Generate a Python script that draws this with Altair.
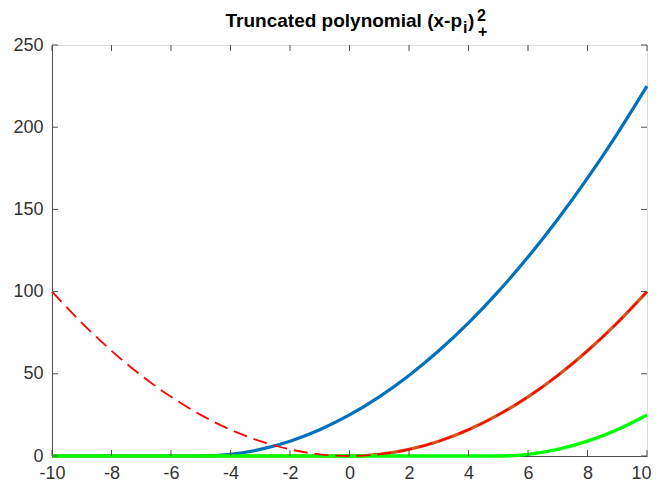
import altair as alt
import pandas as pd

# x sample positions and values
x_vals = [-10, -9, -8, -7, -6, -5, -4, -3, -2, -1, 0, 1, 2, 3, 4, 5, 6, 7, 8, 9, 10]
blue_vals = [0, 0, 0, 0, 0, 0, 1, 4, 9, 16, 25, 36, 49, 64, 81, 100, 121, 144, 169, 196, 225]
orange_vals = [0, 0, 0, 0, 0, 0, 0, 0, 0, 0, 0, 1, 4, 9, 16, 25, 36, 49, 64, 81, 100]
green_vals = [0, 0, 0, 0, 0, 0, 0, 0, 0, 0, 0, 0, 0, 0, 0, 0, 1, 4, 9, 16, 25]
red_vals = [100, 81, 64, 49, 36, 25, 16, 9, 4, 1, 0, 1, 4, 9, 16, 25, 36, 49, 64, 81, 100]

x_ticks = [-10, -8, -6, -4, -2, 0, 2, 4, 6, 8, 10]
y_ticks = [0, 50, 100, 150, 200, 250]

FONT = "Liberation Sans, Arial, Helvetica, sans-serif"
W, H = 595, 411
AXC = "#4d4d4d"
TXT = "#333333"

xscale = alt.Scale(domain=[-10, 10], nice=False, zero=False)
yscale = alt.Scale(domain=[0, 250], nice=False)

xaxis = alt.Axis(values=x_ticks, tickSize=0, labelPadding=8, grid=False, title=None,
                 domainColor=AXC, labelColor=TXT, labelFont=FONT, labelFontSize=18,
                 labelFlush=False, labelOverlap=False, labelExpr="toString(datum.value)",
                 labelOffset={"condition": {"test": "datum.value == 10", "value": -6}, "value": 0})
yaxis = alt.Axis(values=y_ticks, tickSize=0, labelPadding=9, grid=False, title=None,
                 domainColor=AXC, labelColor=TXT, labelFont=FONT, labelFontSize=18,
                 labelFlush=False, labelOverlap=False, labelExpr="toString(datum.value)")


def series(vals, color, width, dash=None):
    df = pd.DataFrame({"x": x_vals, "y": vals})
    kw = dict(color=color, strokeWidth=width, interpolate="monotone", strokeCap="butt")
    if dash:
        kw["strokeDash"] = dash
    return alt.Chart(df).mark_line(**kw).encode(
        x=alt.X("x:Q", scale=xscale, axis=xaxis, title=None),
        y=alt.Y("y:Q", scale=yscale, axis=yaxis, title=None),
    )


blue = series(blue_vals, "#0072BD", 3.2)
orange = series(orange_vals, "#D95319", 3.2)
green = series(green_vals, "#00FF00", 3.4)
red = series(red_vals, "#FF0000", 1.8, dash=[14, 7])

xt = pd.DataFrame({"t": x_ticks})
yt = pd.DataFrame({"t": y_ticks})
tick_style = dict(color=AXC, strokeWidth=1)
xb = alt.Chart(xt).mark_rule(**tick_style).encode(
    x=alt.X("t:Q", scale=xscale, axis=xaxis, title=None), y=alt.value(H), y2=alt.value(H - 6))
xtop = alt.Chart(xt).mark_rule(**tick_style).encode(
    x=alt.X("t:Q", scale=xscale, axis=xaxis, title=None), y=alt.value(0), y2=alt.value(6))
yl = alt.Chart(yt).mark_rule(**tick_style).encode(
    y=alt.Y("t:Q", scale=yscale, axis=yaxis, title=None), x=alt.value(0), x2=alt.value(6))
yr = alt.Chart(yt).mark_rule(**tick_style).encode(
    y=alt.Y("t:Q", scale=yscale, axis=yaxis, title=None), x=alt.value(W), x2=alt.value(W - 6))

one = alt.Data(values=[{}])


def tpart(text, x, y, size, align="left"):
    return alt.Chart(one).mark_text(
        text=text, font=FONT, fontWeight="bold", fontSize=size, color="#000000",
        align=align, baseline="alphabetic"
    ).encode(x=alt.value(x), y=alt.value(y))


title = [
    tpart("Truncated polynomial (x-p", 410, -18, 19, align="right"),
    tpart("i", 411, -12, 16),
    tpart(")", 416, -18, 19),
    tpart("2", 425, -24, 16),
    tpart("+", 426, -8, 16),
]

chart = alt.layer(
    blue, orange, green, red, xb, xtop, yl, yr, *title
).properties(
    width=W, height=H,
    autosize=alt.AutoSizeParams(type="none"),
    padding={"left": 44, "top": 37, "right": 4, "bottom": 26},
).configure_view(
    stroke=AXC, strokeWidth=1
).configure(background="#ffffff")

chart.save("out.html", embed_options={"renderer": "svg", "actions": False})
